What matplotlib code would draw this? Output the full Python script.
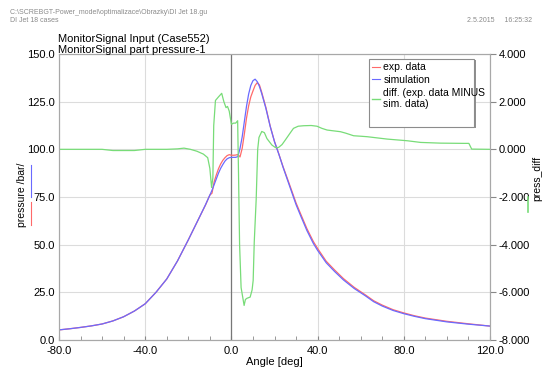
import numpy as np
import matplotlib.pyplot as plt
from matplotlib.patches import Rectangle
from matplotlib.lines import Line2D

plt.rcParams['font.family'] = ['Liberation Sans', 'DejaVu Sans']

# crank angle grid for the pressure traces
angle = [-80, -75, -70, -65, -60, -55, -50, -45, -40, -35, -30, -25, -20, -15, -12, -10, -9, -8, -7, -6, -5,
         -4, -3, -2, -1, 0, 1, 2, 3, 4, 5, 6, 7, 8, 9, 10, 11, 12, 13, 14, 16, 18, 20, 22, 24, 26, 28, 30,
         32, 35, 38, 40, 44, 48, 52, 57, 62, 66, 70, 75, 80, 85, 90, 100, 110, 120]
sim_p = [5.3, 5.9, 6.6, 7.4, 8.4, 10.0, 12.2, 15.2, 19.0, 25.0, 32.0, 41.5, 52.5, 64.0, 71.0, 76.0, 78.5,
         81.5, 84.5, 87.5, 90.0, 92.0, 93.8, 95.0, 95.6, 95.8, 95.8, 95.8, 96.2, 100.5, 106.5, 114.5, 122.5,
         129.0, 133.5, 136.0, 136.8, 135.5, 133.0, 129.5, 121.5, 112.0, 104.0, 97.5, 90.5, 84.0, 77.5, 71.0,
         65.5, 57.5, 50.7, 47.0, 40.5, 35.8, 31.5, 27.0, 23.3, 20.1, 17.8, 15.5, 13.8, 12.4, 11.2, 9.5, 8.3,
         7.3]
exp_p = [5.3, 5.9, 6.6, 7.4, 8.4, 10.0, 12.2, 15.2, 19.0, 25.0, 32.0, 41.5, 52.5, 64.0, 70.8, 76.0, 77.0,
         83.0, 86.6, 89.8, 92.3, 94.2, 95.6, 96.7, 97.2, 96.9, 96.9, 97.0, 97.3, 96.0, 100.5, 108.0, 116.3,
         122.8, 127.5, 130.6, 133.5, 135.0, 133.8, 130.2, 122.0, 112.2, 104.1, 97.6, 90.8, 84.6, 78.3, 71.9,
         66.5, 58.5, 51.7, 48.0, 41.3, 36.6, 32.2, 27.6, 23.8, 20.6, 18.3, 15.9, 14.2, 12.7, 11.5, 9.8, 8.5,
         7.3]

# difference exp - sim
diff_angle = [-80, -60, -55, -45, -40, -30, -25, -22, -19, -16, -13, -11, -10, -9.2, -8.6, -8.2, -7.4, -6,
              -4.5, -3.5, -2.5, -1.8, -1, 0, 1, 2, 2.9, 3.3, 3.8, 4.5, 5.9, 6.5, 7.2, 8.7, 9.6, 10.1, 10.6,
              11.5, 12.2, 12.8, 14.1, 15.3, 16.5, 18.8, 20.5, 21.9, 23.5, 25, 27, 28.8, 31, 33.5, 37, 39.7,
              42, 44.4, 47, 50.6, 53, 56.7, 60, 63, 72.3, 81.6, 87.8, 97, 107.9, 110.2, 111.5, 120]
diff_p = [0.0, 0.0, -0.05, -0.05, 0.0, 0.0, 0.02, 0.05, 0.0, -0.08, -0.2, -0.35, -0.8, -1.6, -1.2, 1.0, 2.05,
          2.2, 2.35, 2.0, 1.75, 1.8, 1.6, 1.05, 1.1, 1.1, 1.2, -1.0, -4.0, -5.8, -6.55, -6.3, -6.25, -6.2,
          -5.9, -5.5, -3.9, -2.1, 0.0, 0.5, 0.75, 0.7, 0.45, 0.18, 0.07, 0.08, 0.2, 0.39, 0.65, 0.88, 0.97,
          0.99, 1.0, 0.97, 0.88, 0.81, 0.78, 0.74, 0.68, 0.57, 0.55, 0.53, 0.43, 0.36, 0.29, 0.26, 0.25,
          0.25, 0.01, 0.0]

RED = '#ff6a6a'
BLUE = '#6a6aff'
GREEN = '#78dc78'
SPINE = '#a8a8a8'

fig = plt.figure(figsize=(5.42, 3.79), dpi=100)
ax = fig.add_axes([59 / 542, 39 / 379, 431 / 542, 286 / 379])
ax2 = ax.twinx()

ax.plot(angle, exp_p, color=RED, lw=0.9)
ax.plot(angle, sim_p, color=BLUE, lw=0.9)
ax2.plot(diff_angle, diff_p, color=GREEN, lw=0.9)

ax.set_xlim(-80, 120)
ax.set_ylim(0, 150)
ax2.set_ylim(-8, 4)
ax.set_xticks(np.arange(-80, 121, 40))
ax.set_xticks(np.arange(-80, 121, 10), minor=True)
ax.set_yticks(np.arange(0, 151, 25))
ax2.set_yticks(np.arange(-8, 4.1, 2))
ax.xaxis.set_major_formatter(lambda v, p: f'{v:.1f}')
ax.yaxis.set_major_formatter(lambda v, p: f'{v:.1f}')
ax2.yaxis.set_major_formatter(lambda v, p: f'{v:.3f}')

ax.grid(True, color='#dcdcdc', lw=0.8)
ax.set_axisbelow(True)
ax.axvline(0, color='#777777', lw=0.9, zorder=1)

ax.tick_params(axis='x', which='both', direction='in', length=3, color='#888888', labelsize=8, pad=4)
ax.tick_params(axis='y', length=0, labelsize=8, pad=3)
ax2.tick_params(axis='y', direction='out', length=4, color='#888888', labelsize=8, pad=2)
for a in (ax, ax2):
    for s in a.spines.values():
        s.set_color(SPINE)
        s.set_linewidth(0.8)

ax.set_xlabel('Angle [deg]', fontsize=8, labelpad=1)

# legend with its own box, drawn on the upper axes
ax2.add_patch(Rectangle((0.722, 0.742), 0.245, 0.238, transform=ax2.transAxes, facecolor='#909090',
                        edgecolor='none', zorder=9))
ax2.add_patch(Rectangle((0.719, 0.745), 0.245, 0.238, transform=ax2.transAxes, facecolor='white',
                        edgecolor='#8c8c8c', lw=0.8, zorder=10))
handles = [Line2D([], [], color=RED, lw=0.8), Line2D([], [], color=BLUE, lw=0.8),
           Line2D([], [], color=GREEN, lw=1.0)]
leg = ax2.legend(handles, ['exp. data', 'simulation', 'diff. (exp. data MINUS\nsim. data)'],
                 loc='upper left', bbox_to_anchor=(0.716, 0.985), frameon=False, fontsize=7.5,
                 handlelength=0.8, handletextpad=0.3, labelspacing=0.25, borderaxespad=0)
leg.set_zorder(11)

# titles and header
fig.text(58 / 542, 1 - 39 / 379, 'MonitorSignal Input (Case552)', fontsize=8, va='center')
fig.text(58 / 542, 1 - 50 / 379, 'MonitorSignal part pressure-1', fontsize=8, va='center')
fig.text(10 / 542, 1 - 12 / 379, 'C:\\SCREBGT-Power_model\\optimalizace\\Obrazky\\DI Jet 18.gu',
         fontsize=5, color='#8a8a8a', va='center')
fig.text(10 / 542, 1 - 21 / 379, 'DI Jet 18 cases', fontsize=5, color='#8a8a8a', va='center')
fig.text(532 / 542, 1 - 21 / 379, '2.5.2015     16:25:32', fontsize=5, color='#8a8a8a',
         va='center', ha='right')

# axis labels with colour keys
fig.text(22 / 542, 1 - 195 / 379, 'pressure /bar/', fontsize=7.5, rotation=90, va='center', ha='center')
fig.add_artist(Line2D([31 / 542, 31 / 542], [1 - 165 / 379, 1 - 197 / 379], color=BLUE, lw=0.8))
fig.add_artist(Line2D([31 / 542, 31 / 542], [1 - 202 / 379, 1 - 225 / 379], color=RED, lw=0.8))
fig.text(537 / 542, 1 - 178 / 379, 'press_diff', fontsize=7.5, rotation=90, va='center', ha='center')
fig.add_artist(Line2D([528 / 542, 528 / 542], [1 - 197 / 379, 1 - 212 / 379], color=GREEN, lw=1.2))

fig.savefig('out.png', dpi=100)
